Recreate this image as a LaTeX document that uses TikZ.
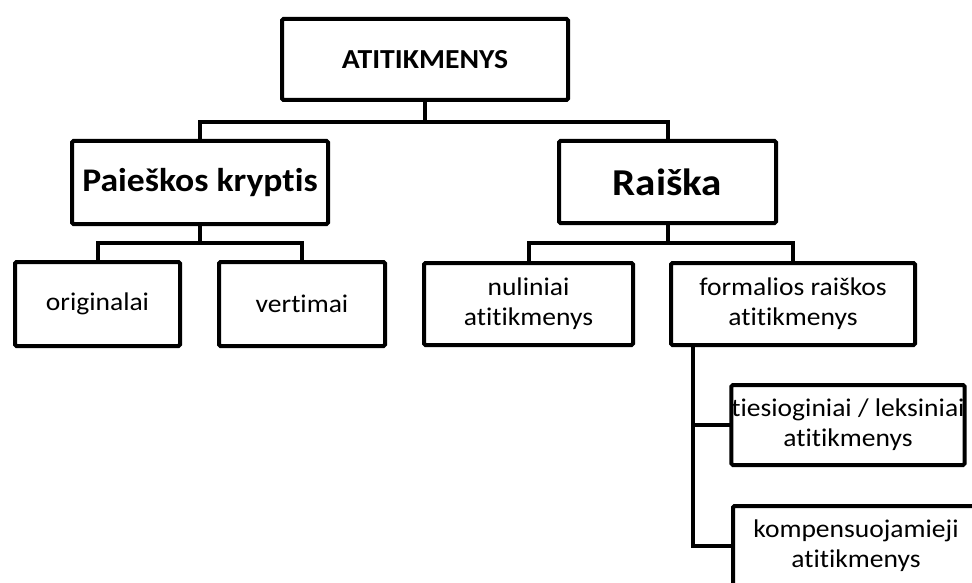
\documentclass[tikz,border=0pt]{standalone}
\usepackage{fontspec}
\setmainfont{Carlito}[FakeStretch=1.08, Ligatures=NoCommon, RawFeature=-liga]
\usetikzlibrary{positioning}

\begin{document}
\begin{tikzpicture}[
  x=1pt, y=-1pt,
  box/.style={draw, line width=4pt, rounded corners=1.5pt, align=center,
              inner sep=0pt, fill=white},
  headfont/.style={font=\bfseries\fontsize{27.5}{32}\selectfont},
  midfont/.style={font=\fontsize{25.5}{30}\selectfont},
  conn/.style={line width=4pt, line cap=rect},
]
\clip (0,0) rectangle (972,583);

% level 0
\node[box, headfont, minimum width=286pt, minimum height=81pt] (root) at (425,59.5) {ATITIKMENYS};

% level 1
\node[box, minimum width=256pt, minimum height=83pt,
      font=\bfseries\fontsize{33}{38}\selectfont] (paieska) at (200,182.5) {Paieškos kryptis};
\node[box, minimum width=217pt, minimum height=82pt,
      font=\bfseries\fontsize{38}{44}\selectfont] (raiska) at (667.5,182) {Raiška};

% level 2
\node[box, midfont, minimum width=165pt, minimum height=84pt] (orig) at (97.5,304) {originalai};
\node[box, midfont, minimum width=166pt, minimum height=84pt] (vert) at (302,304) {vertimai};
\node[box, midfont, minimum width=209pt, minimum height=82pt] (nul)  at (528.5,304) {nuliniai\\atitikmenys};
\node[box, midfont, minimum width=244pt, minimum height=82pt] (form) at (793,304) {formalios raiškos\\atitikmenys};

% level 3
\node[box, midfont, minimum width=228pt, minimum height=80pt] (ties) at (848,425) {tiesioginiai / leksiniai\\atitikmenys};
\node[box, midfont, minimum width=246pt, minimum height=80pt] (komp) at (856,546) {kompensuojamieji\\atitikmenys};

\draw[conn] (root.south) -- ++(0,20) -| (paieska.north);
\draw[conn] (root.south) -- ++(0,20) -| (raiska.north);
\draw[conn] (paieska.south) -- ++(0,17) -| (orig.north);
\draw[conn] (paieska.south) -- ++(0,17) -| (vert.north);
\draw[conn] (raiska.south) -- ++(0,18) -| (nul.north);
\draw[conn] (raiska.south) -- ++(0,18) -| (form.north);
\draw[conn] ([xshift=24pt]form.south west) |- (ties.west);
\draw[conn] ([xshift=24pt]form.south west) |- (komp.west);
\end{tikzpicture}
\end{document}
